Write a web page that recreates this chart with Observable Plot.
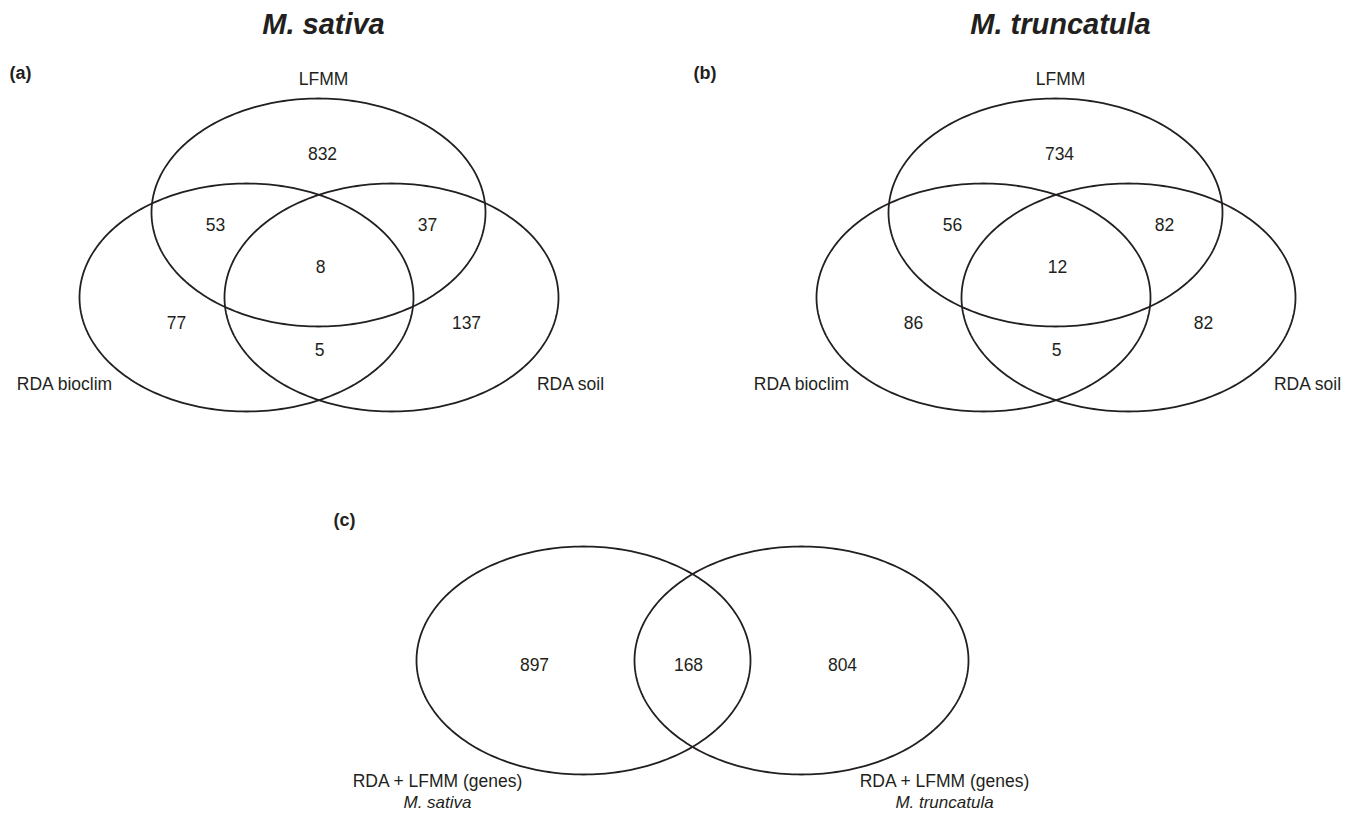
<!DOCTYPE html>
<html>
<head>
<meta charset="utf-8">
<script src="https://cdn.jsdelivr.net/npm/d3@7"></script>
<script src="https://cdn.jsdelivr.net/npm/@observablehq/plot@0.6"></script>
<style>
  html, body { margin: 0; padding: 0; background: #fff; overflow: hidden; }
  #chart svg { display: block; }
</style>
</head>
<body>
<div id="chart"></div>
<script>
// ---------- data ----------
const speciesTitles = ["M. sativa", "M. truncatula"];
const panelTags = ["(a)", "(b)", "(c)"];
const setNames3 = ["LFMM", "RDA bioclim", "RDA soil"];
const regions3 = ["LFMM only", "LFMM & bioclim", "LFMM & soil", "all three", "bioclim only", "soil only", "bioclim & soil"];
const sativaCounts = [832, 53, 37, 8, 77, 137, 5];
const truncatulaCounts = [734, 56, 82, 12, 86, 82, 5];
const setNames2 = ["RDA + LFMM (genes)", "RDA + LFMM (genes)"];
const setSpecies2 = ["M. sativa", "M. truncatula"];
const regions2 = ["M. sativa only", "shared", "M. truncatula only"];
const genesCounts = [897, 168, 804];

// ---------- layout (pixel units of the figure) ----------
const W = 1352, H = 813;
const RX = 167, RY = 114;
const panel3Origins = [{x: 318, y: 212}, {x: 1055, y: 212}];   // LFMM ellipse centre
const set3Offsets = [{dx: 0, dy: 0}, {dx: -72, dy: 85}, {dx: 73, dy: 85}];
const region3Offsets = [
  {dx: 4, dy: -58}, {dx: -103, dy: 13}, {dx: 109, dy: 13}, {dx: 2, dy: 55},
  {dx: -142, dy: 111}, {dx: 148, dy: 111}, {dx: 1, dy: 138}
];
const set3LabelOffsets = [{dx: 5, dy: -133}, {dx: -254, dy: 172}, {dx: 252, dy: 172}];
const panel2Origin = {x: 583, y: 660};
const set2Offsets = [{dx: 0, dy: 0}, {dx: 218, dy: 0}];
const region2Offsets = [{dx: -49, dy: 5}, {dx: 105, dy: 5}, {dx: 259, dy: 5}];
const set2LabelOffsets = [{dx: -146, dy: 121}, {dx: 361, dy: 121}];

// ---------- build tables ----------
function ellipsePts(id, cx, cy) {
  const pts = [];
  const n = 240;
  for (let i = 0; i <= n; i++) {
    const t = (i / n) * 2 * Math.PI;
    pts.push({id, x: cx + RX * Math.cos(t), y: cy + RY * Math.sin(t)});
  }
  return pts;
}

const outlines = [];
const numbers = [];
const setLabels = [];
const italicLabels = [];
const titles = [];
const tags = [];

[sativaCounts, truncatulaCounts].forEach((counts, p) => {
  const o = panel3Origins[p];
  setNames3.forEach((name, s) => {
    outlines.push(...ellipsePts(`p${p}s${s}`, o.x + set3Offsets[s].dx, o.y + set3Offsets[s].dy));
    setLabels.push({text: name, x: o.x + set3LabelOffsets[s].dx, y: o.y + set3LabelOffsets[s].dy});
  });
  regions3.forEach((r, i) => {
    numbers.push({text: String(counts[i]), x: o.x + region3Offsets[i].dx, y: o.y + region3Offsets[i].dy});
  });
  titles.push({text: speciesTitles[p], x: o.x + 5, y: 24});
  tags.push({text: panelTags[p], x: p === 0 ? 9 : 693, y: 73});
});

setNames2.forEach((name, s) => {
  const o = panel2Origin;
  outlines.push(...ellipsePts(`c${s}`, o.x + set2Offsets[s].dx, o.y + set2Offsets[s].dy));
  setLabels.push({text: name, x: o.x + set2LabelOffsets[s].dx, y: o.y + set2LabelOffsets[s].dy});
  italicLabels.push({text: setSpecies2[s], x: o.x + set2LabelOffsets[s].dx, y: o.y + set2LabelOffsets[s].dy + 21});
});
regions2.forEach((r, i) => {
  numbers.push({text: String(genesCounts[i]), x: panel2Origin.x + region2Offsets[i].dx, y: panel2Origin.y + region2Offsets[i].dy});
});
tags.push({text: panelTags[2], x: 333, y: 520});

const FONT = "'Liberation Sans', Arial, Helvetica, sans-serif";
const INK = "#231f20";

const chart = Plot.plot({
  width: W,
  height: H,
  margin: 0,
  x: {domain: [0, W], range: [0, W], axis: null},
  y: {domain: [0, H], range: [0, H], axis: null},
  style: {fontFamily: FONT, background: "#fff"},
  marks: [
    Plot.line(outlines, {x: "x", y: "y", z: "id", stroke: INK, strokeWidth: 1.8, curve: "linear"}),
    Plot.text(numbers, {x: "x", y: "y", text: "text", fontSize: 17.5, fill: INK, fontFamily: FONT}),
    Plot.text(setLabels, {x: "x", y: "y", text: "text", fontSize: 17.5, fill: INK, fontFamily: FONT}),
    Plot.text(italicLabels, {x: "x", y: "y", text: "text", fontSize: 17, fill: INK, fontStyle: "italic", fontFamily: FONT}),
    Plot.text(titles, {x: "x", y: "y", text: "text", fontSize: 29, fontWeight: "bold", fontStyle: "italic", fill: INK, fontFamily: FONT}),
    Plot.text(tags, {x: "x", y: "y", text: "text", fontSize: 18, fontWeight: "bold", fill: INK, textAnchor: "start", fontFamily: FONT})
  ]
});
document.getElementById("chart").appendChild(chart);
</script>
</body>
</html>
